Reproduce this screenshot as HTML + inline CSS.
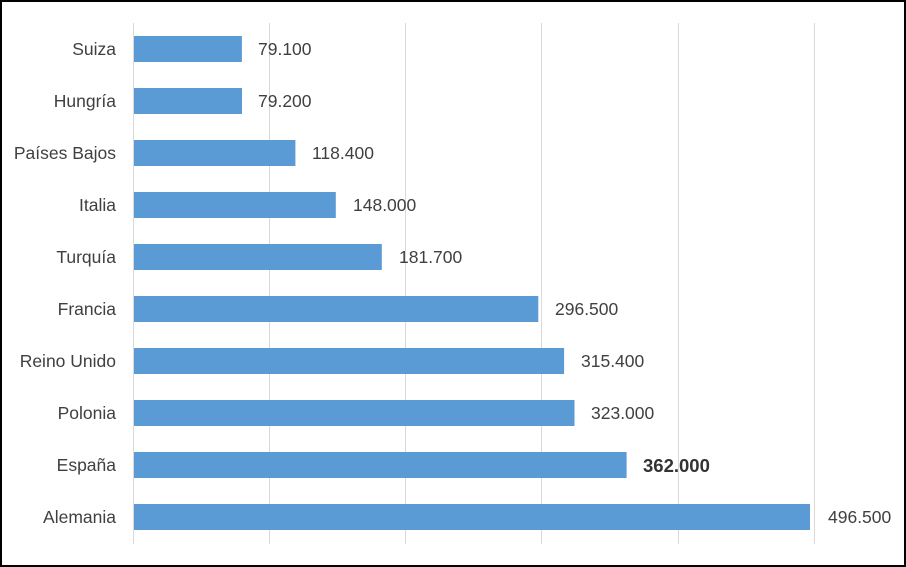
<!DOCTYPE html>
<html><head><meta charset="utf-8"><style>
html,body{margin:0;padding:0;background:#fff}
svg{display:block}
text{font-family:"Liberation Sans",sans-serif;font-size:17.5px;fill:#404040}
</style></head><body>
<svg width="906" height="567" viewBox="0 0 906 567">
<rect x="1" y="1" width="904" height="565" fill="#fff" stroke="#000" stroke-width="2"/>
<g stroke="#d9d9d9" stroke-width="1">
<line x1="133.5" y1="23" x2="133.5" y2="544"/>
<line x1="269.5" y1="23" x2="269.5" y2="544"/>
<line x1="405.5" y1="23" x2="405.5" y2="544"/>
<line x1="541.5" y1="23" x2="541.5" y2="544"/>
<line x1="678.5" y1="23" x2="678.5" y2="544"/>
<line x1="814.5" y1="23" x2="814.5" y2="544"/>
</g>
<g fill="#5b9bd5">
<rect x="134" y="36" width="107.9" height="26"/>
<rect x="134" y="88" width="108" height="26"/>
<rect x="134" y="140" width="161.4" height="26"/>
<rect x="134" y="192" width="201.8" height="26"/>
<rect x="134" y="244" width="247.8" height="26"/>
<rect x="134" y="296" width="404.3" height="26"/>
<rect x="134" y="348" width="430.1" height="26"/>
<rect x="134" y="400" width="440.5" height="26"/>
<rect x="134" y="452" width="492.6" height="26"/>
<rect x="134" y="504" width="676" height="26"/>
</g>
<g text-anchor="end">
<text x="116" y="55">Suiza</text>
<text x="116" y="107">Hungría</text>
<text x="116" y="159">Países Bajos</text>
<text x="116" y="211">Italia</text>
<text x="116" y="263">Turquía</text>
<text x="116" y="315">Francia</text>
<text x="116" y="367">Reino Unido</text>
<text x="116" y="419">Polonia</text>
<text x="116" y="471">España</text>
<text x="116" y="523">Alemania</text>
</g>
<text x="258" y="55">79.100</text>
<text x="258" y="107">79.200</text>
<text x="312" y="159">118.400</text>
<text x="353" y="211">148.000</text>
<text x="399" y="263">181.700</text>
<text x="555" y="315">296.500</text>
<text x="581" y="367">315.400</text>
<text x="591" y="419">323.000</text>
<text x="643" y="472" style="font-weight:bold;font-size:18.5px;fill:#333">362.000</text>
<text x="828" y="523">496.500</text>
</svg>
</body></html>
